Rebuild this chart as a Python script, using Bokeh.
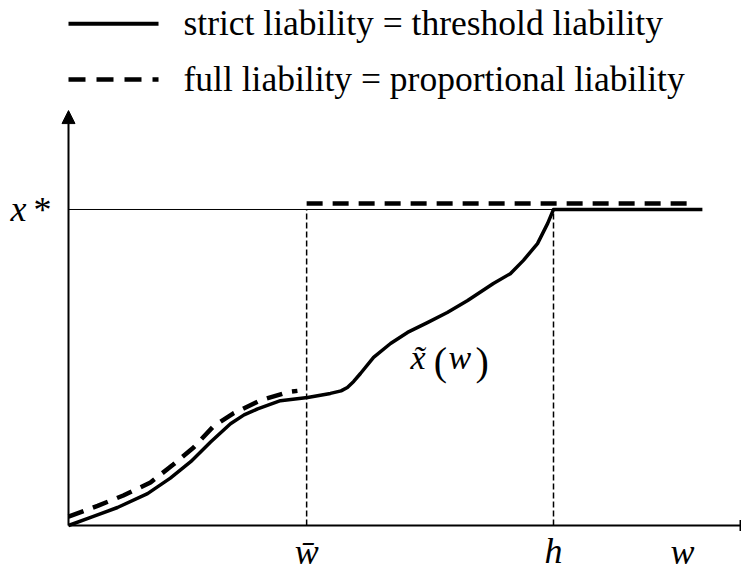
from bokeh.plotting import figure
from bokeh.models import Range1d, Label, Arrow, NormalHead, TeeHead
from bokeh.embed import file_html
from bokeh.resources import INLINE

# ---- data (units: h = 10, x* = 10) ----
w_bar = 4.91
h_val = 10.0
x_star = 10.0
y_axis_top = 13.13
x_axis_end = 13.856

# strict liability = threshold liability  (x~(w) up to h, then x*)
strict_w = [0.0, 0.50, 1.01, 1.63, 2.10, 2.52, 2.93, 3.34, 3.62, 3.90, 4.37,
            4.93, 5.40, 5.62, 5.75, 5.88, 6.02, 6.29, 6.64, 6.99, 7.40, 7.81,
            8.23, 8.76, 9.11, 9.38, 9.67, 9.88, 10.0, 13.07]
strict_x = [0.0, 0.28, 0.57, 1.01, 1.50, 2.02, 2.64, 3.22, 3.50, 3.69, 3.95,
            4.05, 4.18, 4.26, 4.37, 4.56, 4.81, 5.32, 5.76, 6.11, 6.42, 6.74,
            7.12, 7.66, 7.97, 8.39, 8.92, 9.56, 10.0, 10.0]

# full liability = proportional liability (below w_bar, then x* from w_bar on)
full_w_low = [0.0, 0.60, 1.13, 1.69, 2.16, 2.58, 2.99, 3.40, 3.96, 4.52, 4.72]
full_x_low = [0.28, 0.62, 0.95, 1.36, 1.93, 2.47, 3.14, 3.55, 3.96, 4.22, 4.26]
full_w_high = [4.91, 12.87]
full_x_high = [10.19, 10.19]

legend_labels = ["strict liability = threshold liability",
                 "full liability = proportional liability"]
x_tick_labels = ["w\u0304", "h"]
x_axis_label = "w"
y_tick_label = ["x", "*"]
curve_label = ["x\u0303", "(", "w", ")"]

SERIF = "Liberation Serif"
DY = 0.285  # baseline correction for label placement

p = figure(width=741, height=571,
           x_range=Range1d(-1.4021, 13.8763), y_range=Range1d(-1.4557, 16.6139),
           x_axis_type=None, y_axis_type=None,
           output_backend="svg", toolbar_location=None,
           min_border=0, min_border_left=0, min_border_right=0,
           min_border_top=0, min_border_bottom=0)
p.outline_line_color = None
p.background_fill_color = "white"
p.border_fill_color = "white"


def label(x, y, text, size="36px", style="normal", align="left"):
    p.add_layout(Label(x=x, y=y + DY, text=text, text_font=SERIF, text_font_style=style,
                       text_font_size=size, text_baseline="alphabetic", text_align=align,
                       text_color="black"))


# axes
p.add_layout(Arrow(end=NormalHead(size=13, fill_color="black", line_color="black", line_width=1),
                   x_start=0, y_start=0, x_end=0, y_end=y_axis_top,
                   line_width=2, line_color="black"))
p.add_layout(Arrow(end=TeeHead(size=11, line_width=2, line_color="black"),
                   x_start=0, y_start=0, x_end=x_axis_end, y_end=0,
                   line_width=2, line_color="black"))

# x* reference line and dashed verticals
p.line([0, h_val], [x_star, x_star], line_color="black", line_width=1)
p.line([w_bar, w_bar], [0, x_star], line_color="black", line_width=1.5, line_dash="6 3")
p.line([h_val, h_val], [0, x_star], line_color="black", line_width=1.5, line_dash="6 3")

# curves
p.line(strict_w, strict_x, line_color="black", line_width=3.5, line_join="round")
p.line(full_w_low, full_x_low, line_color="black", line_width=4.5, line_dash="16 10")
p.line(full_w_high, full_x_high, line_color="black", line_width=4.5, line_dash="16 10")

# legend (manual)
key_w = [0.0, 1.856]
p.line(key_w, [15.88, 15.88], line_color="black", line_width=4)
p.line(key_w, [14.11, 14.11], line_color="black", line_width=4.5, line_dash="17 11")
for lab, yy in zip(legend_labels, [15.61, 13.86]):
    label(2.371, yy, lab, size="35.5px")

# axis labels
label(-1.196, 9.72, y_tick_label[0], style="italic")
label(-0.722, 9.69, y_tick_label[1])
for lab, xx, yy in zip(x_tick_labels, [w_bar, h_val], [-1.11, -1.10]):
    label(xx, yy, lab, style="italic", align="center")
label(12.66, -1.108, x_axis_label, style="italic", align="center")

# curve label  x~(w)
for lab, xx, yy, sz, st in zip(curve_label, [7.05, 7.53, 7.835, 8.39], [5.03, 4.905, 5.03, 4.905],
                               ["34px", "40px", "34px", "40px"],
                               ["italic", "normal", "italic", "normal"]):
    label(xx, yy, lab, size=sz, style=st)

open("out.html", "w").write(file_html(p, INLINE))
